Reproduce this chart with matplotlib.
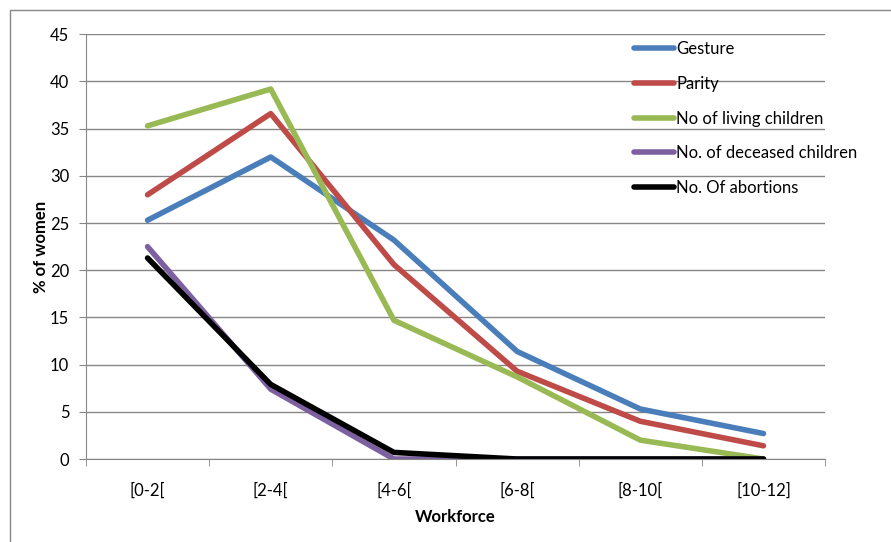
import numpy as np
import matplotlib.pyplot as plt
from matplotlib.patches import Rectangle

categories = ['[0-2[', '[2-4[', '[4-6[', '[6-8[', '[8-10[', '[10-12]']
gesture = [25.3, 32.0, 23.2, 11.4, 5.3, 2.7]
parity = [28.0, 36.6, 20.6, 9.3, 4.0, 1.4]
living = [35.3, 39.2, 14.7, 8.7, 2.0, 0.0]
deceased = [22.5, 7.4, 0.0, 0.0, 0.0, 0.0]
abortions = [21.3, 7.9, 0.7, 0.0, 0.0, 0.0]

series = [
    ('Gesture', gesture, '#4A7EBB'),
    ('Parity', parity, '#BE4B48'),
    ('No of living children', living, '#98B954'),
    ('No. of deceased children', deceased, '#7D60A0'),
    ('No. Of abortions', abortions, '#000000'),
]

plt.rcParams['font.family'] = ['Lato', 'DejaVu Sans']
grey = '#868686'

fig = plt.figure(figsize=(8.91, 5.42), dpi=100)
ax = fig.add_axes([0.0965, 0.1531, 0.8295, 0.7836])

x = np.arange(len(categories))
for name, vals, col in series:
    ax.plot(x, vals, color=col, lw=4, label=name, solid_capstyle='round', solid_joinstyle='round')

ax.set_xlim(-0.5, len(categories) - 0.5)
ax.set_ylim(0, 45)
ax.set_yticks(np.arange(0, 46, 5))
ax.set_xticks(x)
ax.set_xticklabels(categories)
ax.set_xticks(np.arange(-0.5, len(categories)), minor=True)
ax.tick_params(axis='x', which='major', length=0, pad=17, labelsize=12)
ax.tick_params(axis='x', which='minor', length=5, color=grey, direction='out')
ax.tick_params(axis='y', length=5, color=grey, labelsize=12, pad=7)

ax.grid(axis='y', color=grey, lw=1)
ax.set_axisbelow(True)
for s in ['top', 'right']:
    ax.spines[s].set_visible(False)
for s in ['left', 'bottom']:
    ax.spines[s].set_color(grey)

ax.set_xlabel('Workforce', fontsize=12, fontweight='bold', labelpad=7)
ax.set_ylabel('% of women', fontsize=12, fontweight='bold', labelpad=1)

ax.legend(loc='upper left', bbox_to_anchor=(0.712, 0.924), bbox_transform=fig.transFigure,
          frameon=False, fontsize=12, handlelength=2.4, handletextpad=0.1,
          labelspacing=1.12, borderaxespad=0, borderpad=0)

# outer chart frame (cut off at right/bottom)
fig.patches.append(Rectangle((10 / 891, -0.5), 2, 0.5 + 1 - 10 / 542,
                             transform=fig.transFigure, fill=False, ec=grey, lw=1))

fig.savefig('out.png', dpi=100)
